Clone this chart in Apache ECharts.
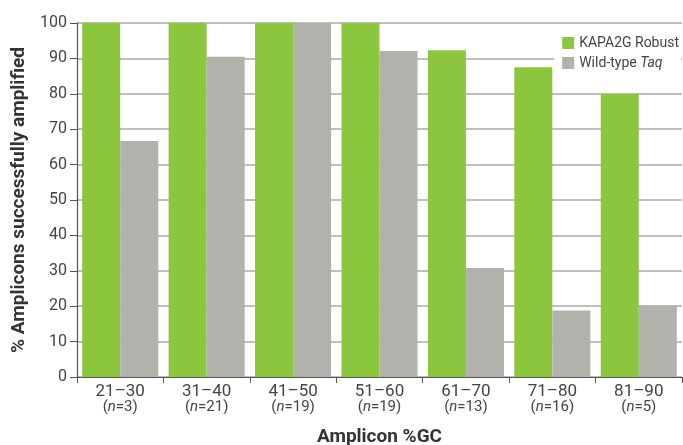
<!DOCTYPE html>
<html><head><meta charset="utf-8">
<script src="https://cdn.jsdelivr.net/npm/echarts@6/dist/echarts.min.js"></script>
<style>html,body{margin:0;padding:0;background:#fff}#c{width:683px;height:445px}</style>
</head><body><div id="c"></div>
<script>
const categories = ['21–30','31–40','41–50','51–60','61–70','71–80','81–90'];
const counts = [3,21,19,19,13,16,5];
const kapa = [100,100,100,100,92.3,87.5,80];
const wildType = [66.7,90.5,100,92.1,30.8,18.8,20.2];
const yTicks = [0,10,20,30,40,50,60,70,80,90,100];

const FONT = 'Roboto, "Liberation Sans", sans-serif';
const chart = echarts.init(document.getElementById('c'), null, {renderer:'canvas'});
chart.setOption({
  animation:false,
  textStyle:{fontFamily:FONT},
  grid:{left:77,right:1,top:23,bottom:68,containLabel:false,outerBoundsMode:'none'},
  legend:{
    right:2, top:33, orient:'vertical', itemWidth:12, itemHeight:12, itemGap:6,
    backgroundColor:'#fff', padding:[3,2,5,8],
    icon:'rect',
    textStyle:{fontSize:14,color:'#444',fontFamily:FONT,
      rich:{i:{fontStyle:'italic',fontSize:14,color:'#444',fontFamily:FONT}}},
    formatter:function(n){ return n==='Wild-type Taq' ? 'Wild-type {i|Taq}' : n; },
    data:['KAPA2G Robust','Wild-type Taq']
  },
  xAxis:{
    type:'category', data:categories,
    name:'Amplicon %GC', nameLocation:'middle', nameGap:51,
    nameTextStyle:{fontSize:19,fontWeight:'bold',color:'#333',fontFamily:FONT},
    axisLine:{lineStyle:{color:'#555',width:1}},
    axisTick:{show:true,length:6,lineStyle:{color:'#555'}},
    axisLabel:{
      interval:0, margin:6, color:'#444',
      formatter:function(v,i){ return '{a|'+v+'}\n{b|(}{n|n}{b|='+counts[i]+')}'; },
      rich:{
        a:{fontSize:17,color:'#444',lineHeight:17,fontFamily:FONT},
        b:{fontSize:15,color:'#444',lineHeight:15,fontFamily:FONT},
        n:{fontSize:15,color:'#444',fontStyle:'italic',lineHeight:15,fontFamily:FONT}
      }
    }
  },
  yAxis:{
    type:'value', min:0, max:100, interval:10,
    name:'% Amplicons successfully amplified', nameLocation:'middle', nameGap:44,
    nameTextStyle:{fontSize:19,fontWeight:'bold',color:'#333',fontFamily:FONT},
    axisLine:{show:true,lineStyle:{color:'#555',width:1.2}},
    axisTick:{show:true,length:7,lineStyle:{color:'#555'}},
    axisLabel:{fontSize:16,color:'#444',margin:10,
      formatter:function(v){ return yTicks.indexOf(v)>=0 ? String(v) : ''; }},
    splitLine:{show:true,lineStyle:{color:'#aaa',width:1.5}}
  },
  series:[
    {name:'KAPA2G Robust',type:'bar',data:kapa,itemStyle:{color:'#8cc63f'},
      barGap:'0%',barCategoryGap:'12%'},
    {name:'Wild-type Taq',type:'bar',data:wildType,itemStyle:{color:'#b2b2ad'},
      barGap:'0%',barCategoryGap:'12%'}
  ]
});
</script></body></html>
